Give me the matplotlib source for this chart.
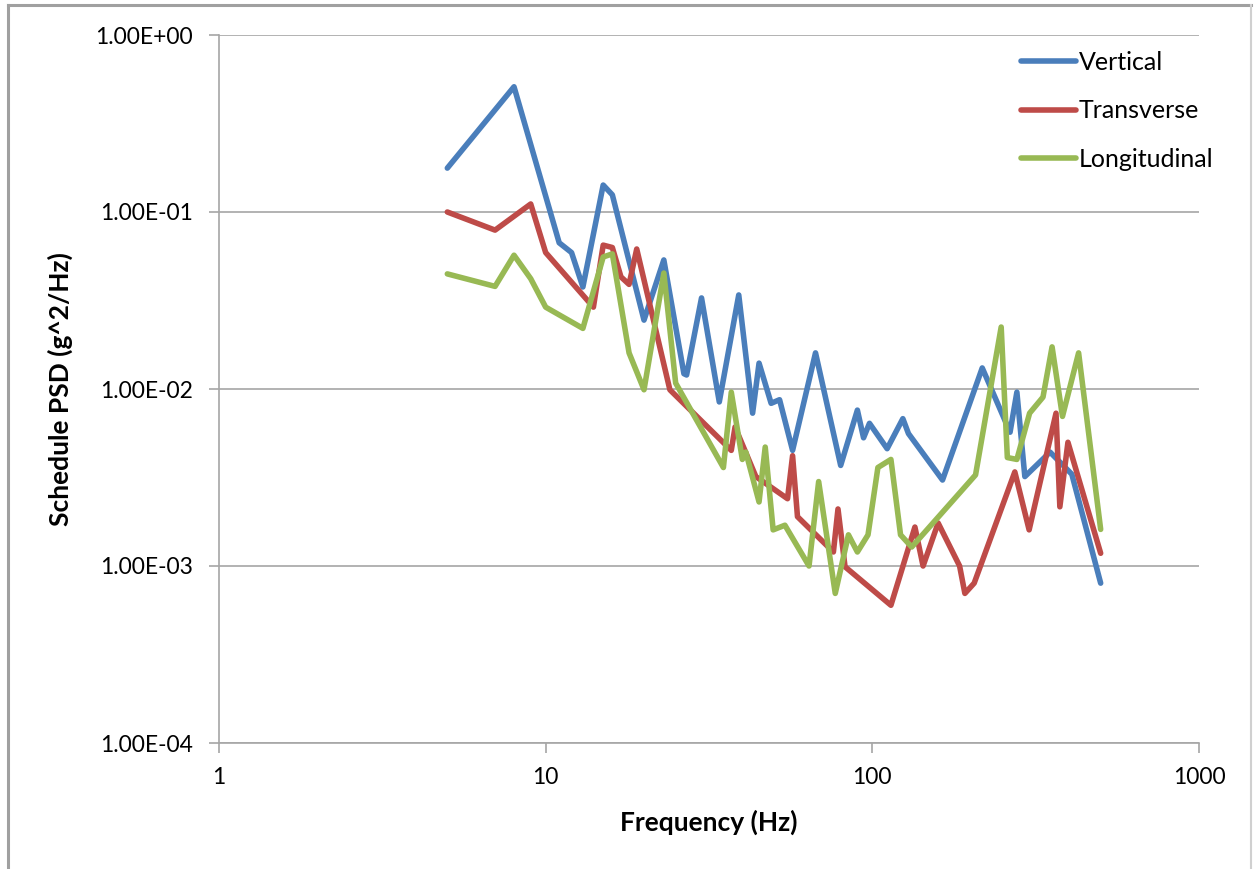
import matplotlib
matplotlib.use("Agg")
import matplotlib.pyplot as plt
from matplotlib.lines import Line2D

plt.rcParams['font.family'] = ['Lato', 'DejaVu Sans']

vert_f = [5, 8, 11, 12, 13, 15, 16, 20, 23, 26.5, 27, 30, 34, 39, 43, 45, 49, 52, 57, 67,
          80, 90, 94, 98, 111, 124, 129, 164, 217, 264, 277, 293, 350, 408, 500]
vert_psd = [0.177, 0.51, 0.067, 0.059, 0.0377, 0.142, 0.125, 0.0245, 0.0536, 0.0122, 0.012,
            0.0327, 0.00845, 0.034, 0.0073, 0.014, 0.0083, 0.0087, 0.0045, 0.016, 0.0037,
            0.0076, 0.0053, 0.0064, 0.0046, 0.0068, 0.0056, 0.00306, 0.01315, 0.0057, 0.0096,
            0.0032, 0.0044, 0.0033, 0.0008]

trans_f = [5, 7, 9, 10, 14, 15, 16, 17, 18, 19, 24, 37, 38, 44, 55, 57, 59, 76, 78.5, 82.5,
           114, 135, 143, 159, 185, 192, 205, 273, 302, 365, 375, 397, 500]
trans_psd = [0.1, 0.079, 0.111, 0.059, 0.029, 0.065, 0.063, 0.043, 0.039, 0.0618, 0.0099,
             0.0045, 0.0061, 0.0032, 0.0024, 0.0042, 0.0019, 0.0012, 0.0021, 0.00099, 0.0006,
             0.00166, 0.001, 0.00175, 0.001, 0.0007, 0.0008, 0.0034, 0.0016, 0.0073, 0.00216,
             0.005, 0.00118]

long_f = [5, 7, 8, 9, 10, 13, 15, 16, 18, 20, 23, 25, 35, 37, 40, 41, 45, 47, 49.7, 54, 64,
          68.5, 77, 84.5, 90, 97, 104, 114, 122, 132, 207, 248, 259, 277, 303, 333, 355, 382,
          428, 500]
long_psd = [0.0447, 0.038, 0.057, 0.042, 0.029, 0.022, 0.0557, 0.058, 0.016, 0.0099, 0.0452,
            0.0108, 0.0036, 0.0096, 0.004, 0.0044, 0.0023, 0.0047, 0.0016, 0.0017, 0.001,
            0.003, 0.0007, 0.0015, 0.0012, 0.0015, 0.0036, 0.004, 0.0015, 0.00128, 0.00327,
            0.0224, 0.0041, 0.004, 0.0073, 0.009, 0.0173, 0.007, 0.016, 0.00161]

x_ticks = [1, 10, 100, 1000]
x_labels = ['1', '10', '100', '1000']
y_ticks = [1e-4, 1e-3, 1e-2, 1e-1, 1e0]
y_labels = ['1.00E-04', '1.00E-03', '1.00E-02', '1.00E-01', '1.00E+00']

W, H = 1255, 869
fig = plt.figure(figsize=(W / 100, H / 100), dpi=100)
ax = fig.add_axes([219 / W, 1 - 743 / H, (1199 - 219) / W, (743 - 35) / H])

grid_c = '#a6a6a6'
lw = 4.0
ax.plot(vert_f, vert_psd, color='#4A7EBB', lw=lw, solid_joinstyle='round', solid_capstyle='round', label='Vertical', zorder=3)
ax.plot(trans_f, trans_psd, color='#BE4B48', lw=lw, solid_joinstyle='round', solid_capstyle='round', label='Transverse', zorder=3)
ax.plot(long_f, long_psd, color='#98B954', lw=lw, solid_joinstyle='round', solid_capstyle='round', label='Longitudinal', zorder=3)

ax.set_xscale('log')
ax.set_yscale('log')
ax.set_xlim(1, 1000)
ax.set_ylim(1e-4, 1)
ax.set_xticks(x_ticks)
ax.set_xticklabels(x_labels)
ax.set_yticks(y_ticks)
ax.set_yticklabels(y_labels)
ax.minorticks_off()
ax.tick_params(axis='both', which='major', direction='out', length=7, width=1.2,
               color=grid_c, labelsize=16.5, labelcolor='black')
ax.tick_params(axis='y', pad=12)
ax.tick_params(axis='x', pad=10)
ax.yaxis.grid(True, color=grid_c, lw=1.2)
ax.set_axisbelow(True)
for s in ['top', 'right']:
    ax.spines[s].set_visible(False)
for s in ['left', 'bottom']:
    ax.spines[s].set_color(grid_c)
    ax.spines[s].set_linewidth(1.2)

ax.set_xlabel('Frequency (Hz)', fontsize=19, fontweight='bold', labelpad=16)
ax.set_ylabel('Schedule PSD (g^2/Hz)', fontsize=19, fontweight='bold', labelpad=16)

leg = ax.legend(loc='upper left', bbox_to_anchor=(1011 / W, 1 - 41 / H),
                bbox_transform=fig.transFigure, frameon=False, fontsize=18,
                handlelength=2.2, handletextpad=0.1, labelspacing=1.02, borderaxespad=0)

# figure border
bc = '#a0a0a0'
fig.add_artist(Line2D([8 / W, 8 / W], [0, 1 - 5 / H], color=bc, lw=2.2, transform=fig.transFigure))
fig.add_artist(Line2D([8 / W, 1251 / W], [1 - 5 / H, 1 - 5 / H], color=bc, lw=2.2, transform=fig.transFigure))
fig.add_artist(Line2D([1251 / W, 1251 / W], [0, 1 - 5 / H], color='#d0d0d0', lw=1.5, transform=fig.transFigure))

fig.savefig('out.png', dpi=100)
